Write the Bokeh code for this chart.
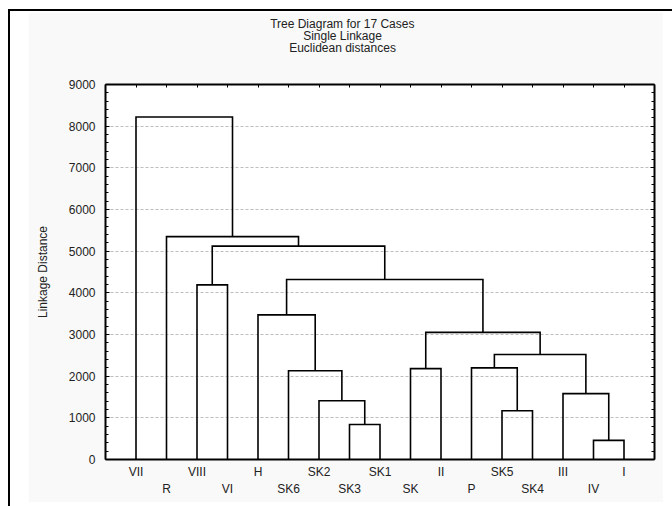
from bokeh.plotting import figure
from bokeh.models import (ColumnDataSource, LinearAxis, FixedTicker, Grid, Title)
from bokeh.layouts import column
from bokeh.embed import file_html
from bokeh.resources import INLINE

# ---------------- data ----------------
title_lines = ["Tree Diagram for 17 Cases", "Single Linkage", "Euclidean distances"]
y_label = "Linkage Distance"

leaves = ["VII", "R", "VIII", "VI", "H", "SK6", "SK2", "SK3", "SK1",
          "SK", "II", "P", "SK5", "SK4", "III", "IV", "I"]

merge_name = ["a", "b", "c", "d", "e", "f", "g", "h", "i", "j", "k", "l", "m", "n", "o", "q"]
merge_left = ["SK3", "SK2", "SK6", "H", "SK", "SK5", "P", "IV", "III", "g", "e", "d", "VIII", "m", "R", "VII"]
merge_right = ["SK1", "a", "b", "c", "II", "SK4", "f", "I", "h", "i", "j", "k", "VI", "l", "n", "o"]
merge_height = [840, 1410, 2130, 3470, 2180, 1170, 2200, 460, 1580, 2520, 3050, 4320, 4190, 5120, 5350, 8220]

y_ticks = [0, 1000, 2000, 3000, 4000, 5000, 6000, 7000, 8000, 9000]
y_minor = list(range(0, 9001, 200))

# ---------------- tree geometry ----------------
pos = {nm: i + 1 for i, nm in enumerate(leaves)}
hgt = {nm: 0 for nm in leaves}
xs, ys = [], []
for nm, l, r, h in zip(merge_name, merge_left, merge_right, merge_height):
    xl, xr = pos[l], pos[r]
    xs.append([xl, xl, xr, xr])
    ys.append([hgt[l], h, h, hgt[r]])
    pos[nm] = (xl + xr) / 2
    hgt[nm] = h
src = ColumnDataSource(dict(xs=xs, ys=ys))

FONT = "Liberation Sans"
TXT = "#222222"
FS = 12

p = figure(width=635, height=490, x_range=(0, len(leaves) + 1), y_range=(0, 9000),
           x_axis_type=None, y_axis_type=None,
           output_backend="svg", toolbar_location=None,
           min_border_left=77, min_border_right=9, min_border_top=72, min_border_bottom=43)
p.outline_line_color = None
p.border_fill_color = "#f9f9f9"
p.background_fill_color = "white"

yticker = FixedTicker(ticks=y_ticks, minor_ticks=y_minor)
leaf_pos = [i + 1 for i in range(len(leaves))]

grid = Grid(dimension=1, ticker=FixedTicker(ticks=y_ticks[1:-1]),
            grid_line_color="#bdbdbd", grid_line_dash="3 2", grid_line_width=1)
p.add_layout(grid)

def style(ax):
    ax.axis_line_color = "black"
    ax.axis_line_width = 2
    ax.major_tick_line_color = "black"
    ax.minor_tick_line_color = "black"
    ax.major_tick_out = 0
    ax.minor_tick_out = 0
    ax.major_label_text_font = FONT
    ax.major_label_text_font_size = f"{FS}px"
    ax.major_label_text_color = TXT

left = LinearAxis(ticker=yticker, axis_label=y_label)
style(left)
left.major_tick_in = 4
left.minor_tick_in = 3
left.major_label_standoff = 10
left.axis_label_standoff = 16
left.axis_label_text_font = FONT
left.axis_label_text_font_size = f"{FS}px"
left.axis_label_text_font_style = "normal"
left.axis_label_text_color = TXT
p.add_layout(left, "left")

right = LinearAxis(ticker=yticker, major_label_overrides={t: "" for t in y_ticks})
style(right)
right.major_tick_in = 4
right.minor_tick_in = 3
right.major_label_standoff = 0
right.major_label_text_font_size = "0px"
p.add_layout(right, "right")

top = LinearAxis(ticker=FixedTicker(ticks=leaf_pos, minor_ticks=[]),
                 major_label_overrides={x: "" for x in leaf_pos})
style(top)
top.major_tick_in = 3
top.major_label_standoff = 0
top.major_label_text_font_size = "0px"
p.add_layout(top, "above")

odd_over = {x: (leaves[x - 1] if (x - 1) % 2 == 0 else "") for x in leaf_pos}
bottom1 = LinearAxis(ticker=FixedTicker(ticks=leaf_pos, minor_ticks=[]),
                     major_label_overrides=odd_over)
style(bottom1)
bottom1.major_tick_in = 0
bottom1.major_label_standoff = 5
p.add_layout(bottom1, "below")

even_pos = [x for x in leaf_pos if (x - 1) % 2 == 1]
bottom2 = LinearAxis(ticker=FixedTicker(ticks=even_pos, minor_ticks=[]),
                     major_label_overrides={x: leaves[x - 1] for x in even_pos})
style(bottom2)
bottom2.axis_line_color = None
bottom2.major_tick_line_color = None
bottom2.major_tick_in = 0
bottom2.major_label_standoff = 0
p.add_layout(bottom2, "below")

# dendrogram
p.multi_line(xs="xs", ys="ys", source=src, line_color="black", line_width=1.6,
             line_join="miter")

# empty spacer between plot frame and title block
p.add_layout(Title(text=" ", text_font=FONT, text_font_size=f"{FS}px", standoff=16), "above")

# title block: three centred lines (centre at x≈342 px on the page)
em_widths = [12.059, 6.559, 8.893]          # Arial/Liberation advance widths in em
center_from_frame_left = 342 - 105
for txt, w in reversed(list(zip(title_lines, em_widths))):
    t = Title(text=txt, align="left", offset=center_from_frame_left - w * FS / 2,
              text_font=FONT, text_font_size=f"{FS}px", text_font_style="normal",
              text_color=TXT, standoff=-4.5)
    p.add_layout(t, "above")

root = column(p, styles={"margin-left": "8px", "margin-top": "9px",
                         "border-left": "2px solid black", "border-top": "2px solid black",
                         "padding-left": "18px", "padding-top": "1px",
                         "padding-right": "9px", "padding-bottom": "4px",
                         "background-color": "white"})

open("out.html", "w").write(file_html(root, INLINE))
